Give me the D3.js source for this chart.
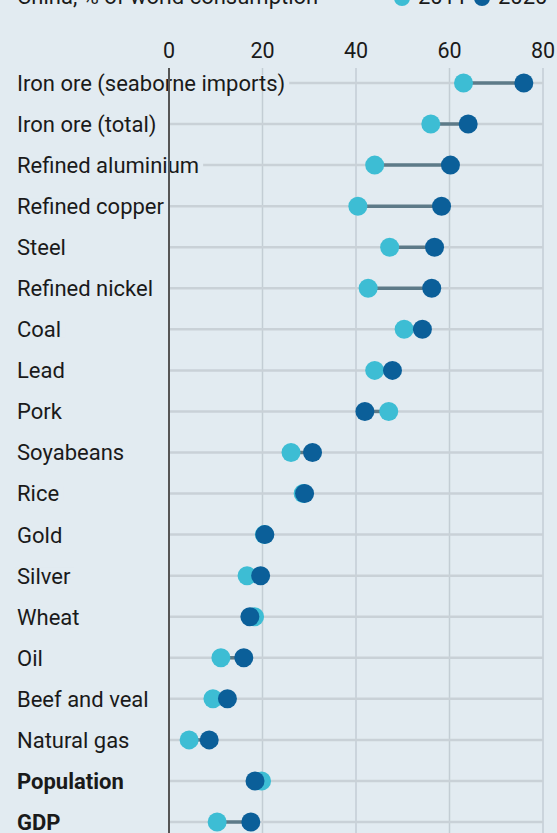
<!DOCTYPE html>
<html lang="en">
<head>
<meta charset="UTF-8">
<title>China, % of world consumption</title>
<script src="https://d3js.org/d3.v7.min.js"></script>
<style>
  html, body { margin: 0; padding: 0; background: #e2ebf1; }
  svg { display: block; }
  text { font-family: Roboto, "Open Sans", sans-serif; fill: #1a1a1a; }
</style>
</head>
<body>
<div id="chart"></div>
<script>
// data
const categories = ["Iron ore (seaborne imports)", "Iron ore (total)", "Refined aluminium", "Refined copper",
  "Steel", "Refined nickel", "Coal", "Lead", "Pork", "Soyabeans", "Rice", "Gold", "Silver", "Wheat",
  "Oil", "Beef and veal", "Natural gas", "Population", "GDP"];
const boldCategories = ["Population", "GDP"];
const years = ["2011", "2020"];
const values2011 = [63, 56, 44, 40.4, 47.2, 42.6, 50.3, 44, 47, 26.1, 28.7, 20.4, 16.7, 18.3, 11.1, 9.4, 4.3, 19.8, 10.3];
const values2020 = [75.9, 64, 60.2, 58.3, 56.8, 56.2, 54.2, 47.8, 41.9, 30.7, 29, 20.5, 19.6, 17.3, 16, 12.5, 8.6, 18.4, 17.5];
const ticks = [0, 20, 40, 60, 80];

const width = 557, height = 833;
const colors = { light: "#3dbdd4", dark: "#0b5f99" };

const rows = categories.map((c, i) => ({ name: c, a: values2011[i], b: values2020[i] }));

const x = d3.scaleLinear().domain([0, 80]).range([169, 543]);
const y = d3.scalePoint().domain(categories).range([83, 822]);

const svg = d3.select("#chart").append("svg")
  .attr("width", width)
  .attr("height", height);

svg.append("rect").attr("width", width).attr("height", height).attr("fill", "#e2ebf1");

// title + legend, cut off at the top like the source
svg.append("text").attr("x", 17).attr("y", 4)
  .attr("font-size", 22).text("China, % of world consumption");
const legend = svg.append("g").selectAll("g")
  .data(years).join("g")
  .attr("transform", (d, i) => `translate(${402 + i * 80},0)`);
legend.append("circle").attr("cx", 0).attr("cy", -2).attr("r", 8)
  .attr("fill", (d, i) => i ? colors.dark : colors.light);
legend.append("text").attr("x", 16).attr("y", 4).attr("font-size", 22).text(d => d);

// vertical gridlines
svg.append("g").selectAll("line")
  .data(ticks.filter(t => t > 0)).join("line")
  .attr("x1", d => x(d)).attr("x2", d => x(d))
  .attr("y1", 68).attr("y2", height)
  .attr("stroke", "#c3cdd4").attr("stroke-width", 1.5);

// horizontal row lines
svg.append("g").selectAll("line")
  .data(rows).join("line")
  .attr("x1", x(0)).attr("x2", x(80))
  .attr("y1", d => y(d.name)).attr("y2", d => y(d.name))
  .attr("stroke", "#c9d1d7").attr("stroke-width", 2.5);

// tick labels
svg.append("g").selectAll("text")
  .data(ticks).join("text")
  .attr("x", d => x(d)).attr("y", 58)
  .attr("text-anchor", "middle").attr("font-size", 21.5)
  .attr("fill", "#222")
  .text(d => d);

// category labels, with a mask behind them over the row lines
const labels = svg.append("g").selectAll("g")
  .data(rows).join("g")
  .attr("transform", d => `translate(17,${y(d.name)})`);
const lblText = labels.append("text")
  .attr("dy", "0.36em")
  .attr("font-size", 22)
  .attr("font-weight", d => boldCategories.includes(d.name) ? 700 : 400)
  .text(d => d.name);
lblText.each(function () {
  const bb = this.getBBox();
  d3.select(this.parentNode).insert("rect", "text")
    .attr("x", bb.x - 2).attr("y", -8)
    .attr("width", bb.width + 6).attr("height", 16)
    .attr("fill", "#e2ebf1");
});

// zero axis
svg.append("line")
  .attr("x1", x(0)).attr("x2", x(0))
  .attr("y1", 68).attr("y2", height)
  .attr("stroke", "#555").attr("stroke-width", 2);

// connectors
svg.append("g").selectAll("line")
  .data(rows).join("line")
  .attr("x1", d => x(d.a)).attr("x2", d => x(d.b))
  .attr("y1", d => y(d.name)).attr("y2", d => y(d.name))
  .attr("stroke", "#5d7a88").attr("stroke-width", 3.5);

// dots, 2020 on top
const dots = svg.append("g");
dots.selectAll("circle.a")
  .data(rows).join("circle")
  .attr("class", "a")
  .attr("cx", d => x(d.a)).attr("cy", d => y(d.name)).attr("r", 9.5)
  .attr("fill", colors.light);
dots.selectAll("circle.b")
  .data(rows).join("circle")
  .attr("class", "b")
  .attr("cx", d => x(d.b)).attr("cy", d => y(d.name)).attr("r", 9.5)
  .attr("fill", colors.dark);
</script>
</body>
</html>
